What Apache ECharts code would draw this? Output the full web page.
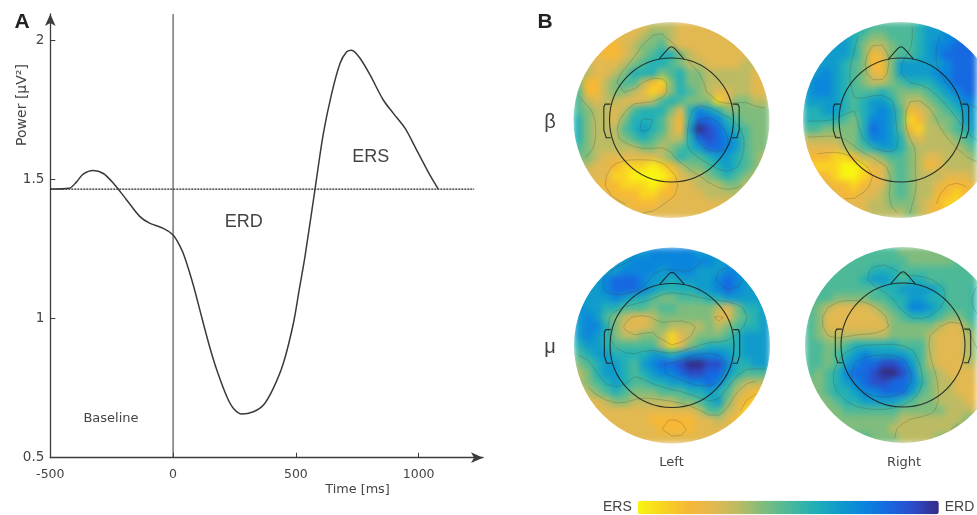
<!DOCTYPE html>
<html><head><meta charset="utf-8">
<style>
html,body{margin:0;padding:0;background:#fff;overflow:hidden}
#chart{width:977px;height:515px}
#chart canvas{filter:blur(0.45px)}
#chart canvas[data-zr-dom-id="zr_-1"]{filter:blur(3px)}
</style>
<script src="https://cdn.jsdelivr.net/npm/echarts@6/dist/echarts.min.js"></script>
</head><body><div id="chart"></div>
<script>
// ---- Panel A values (ms, uV^2) ----
const times=[-500,-423,-393,-366,-325,-284,-243,-189,-135,-94,-40,0,29,49,83,118,150,178,219,246,280,327,368,408,449,490,513,537,578,612,646,680,707,727,761,802,856,897,945,992,1046,1080];
const power=[1.465,1.468,1.491,1.519,1.532,1.521,1.486,1.426,1.366,1.342,1.324,1.300,1.258,1.216,1.118,1.0,0.895,0.815,0.719,0.677,0.657,0.665,0.689,0.749,0.839,0.983,1.10,1.222,1.465,1.665,1.809,1.917,1.958,1.964,1.935,1.875,1.785,1.737,1.683,1.605,1.515,1.465];
const baselineValue=1.465;
const baselineSpan=[-500,1226];
const onsetSpan=[0.5,2.094];
const xTicks=[-500,0,500,1000];
const yTicks=[0.5,1,1.5,2];
// ---- Panel B values: ERS (0) .. ERD (c) level per cell, rows top to bottom ----
const betaLeft=["333333334443333344433","333333345543333334433","333223455643333333333","333223456775433333333","443334567765443333444","543345777567554444433","522456642157554444433","622455431257654334433","643443334676555135544","654434677753798755555","7544357776427aa976555","7544467876428cba87655","7544456765447aba98655","65444445545678aa98655","554333333457667887654","443321110124556787654","333311000013445676544","333221110123344455443","333322211223334444333","333333222333333333333","333333333333333333333"];
const betaRight=["777777766666788999999","888887655666788999aaa","8888875445667899aaaaa","888887523566789aaaaaa","8888765225888889aaaaa","8898765325888899aaaaa","8998765445677789aaaaa","89987666765556789aaa9","888876788754456789999","778876789862345678888","777765799861245568888","6655557a9862144567888","444455799874344456777","333345678875444445666","222112445665433444555","211100133565423444444","322100123565444333444","333221233565443222333","333322334565442212333","333333344555432112333","333333344445432222333"];
const muLeft=["888888889999988888888","888888999999999888888","888889999899988899888","8889aaa988788889a9888","8889aaa987777889a9888","888898776556667788888","988776665665555435778","898654334555555335678","899753334544445456778","898754455413455567888","788766666413567777888","678877778878999987888","567887689aabccbb97788","45788767899abbaa87666","45678766778899a975444","345676555666778764322","333455444445567853211","333333333333346643111","333333332222233432111","333333333222233332222","333333333333333333333"];
const muRight=["666666666655555666666","666666666665555566666","666666677766666666666","666666788767766666667","666666667788887666777","666555566778877666788","654333345679987666788","653333334567776556778","653333333555554335667","654444444555543334556","665567777766643334555","665678988887643334555","665689aabba8643334444","65679aabccb9654333333","556789abbaa9754433322","55677899aaa8654433222","555677888876554443333","555566666655555444333","665555555544444445555","666555555444444455666","666666655544445556666"];
const mapNames=["β Left","β Right","μ Left","μ Right"];
const levelColors=["#f8f510","#f9d420","#f6b835","#e2b850","#bcbb63","#7fbc7c","#4cb998","#22b0b5","#0f9bcb","#0a85dc","#1568e0","#2c4bc8","#352a87"];
const contourLevels=[2.5,4.5,6.5,8.5,10.5];

const maps=[betaLeft,betaRight,muLeft,muRight];
const frames=[[573.5,22],[803,22],[574,247.5],[805,247]];
const N=21,MID=10,R=10.5,HEAD=6.64;
const fill=(g)=>{const d=[];g.forEach((row,j)=>{[...row].forEach((c,i)=>{
  if(Math.hypot(i-MID,j-MID)<=R+1.4)d.push([i,j,parseInt(c,36)]);});});return d;};
const num=(g)=>g.map(r=>[...r].map(c=>parseInt(c,36)));
function smooth(f){return f.map((r,j)=>r.map((_,i)=>{let s=0,w=0;for(let a=-1;a<=1;a++)for(let b=-1;b<=1;b++){
  const v=(f[j+a]||[])[i+b];if(v===undefined)continue;const k=(a?1:2)*(b?1:2);s+=v*k;w+=k;}return s/w;}));}
function contourSegs(g){
  const f=smooth(smooth(num(g))),segs=[];
  const cross=(x0,y0,v0,x1,y1,v1,l)=>{const t=(l-v0)/(v1-v0);return [x0+(x1-x0)*t,y0+(y1-y0)*t];};
  contourLevels.forEach(l=>{for(let j=0;j<N-1;j++)for(let i=0;i<N-1;i++){
    const a=f[j][i],b=f[j][i+1],c=f[j+1][i+1],d=f[j+1][i],p=[];
    if((a<l)!==(b<l))p.push(cross(i,j,a,i+1,j,b,l));
    if((b<l)!==(c<l))p.push(cross(i+1,j,b,i+1,j+1,c,l));
    if((c<l)!==(d<l))p.push(cross(i+1,j+1,c,i,j+1,d,l));
    if((d<l)!==(a<l))p.push(cross(i,j+1,d,i,j,a,l));
    for(let k=0;k+1<p.length;k+=2){
      if(Math.hypot(p[k][0]-MID,p[k][1]-MID)<R-.1&&Math.hypot(p[k+1][0]-MID,p[k+1][1]-MID)<R-.1)segs.push([p[k],p[k+1]]);}
  }});
  return segs;
}
const NOSE=[[-1.35,-6.5],[-.35,-7.65],[0,-7.85],[.35,-7.65],[1.35,-6.5]];
const EAR=[[-6.55,-1.7],[-7.1,-1.7],[-7.25,-1.4],[-7.25,1.1],[-7.0,1.9],[-6.5,1.9]];
function overlay(g){
  const segs=contourSegs(g);
  return function(params,api){
    const c=api.coord([MID,MID]),u=api.size([1,1])[0];
    const pt=p=>[c[0]+p[0]*u,c[1]+p[1]*u];
    const line='rgba(25,32,30,.9)';
    const kids=[{type:'ring',shape:{cx:c[0],cy:c[1],r:R*u+26,r0:R*u},style:{fill:'#fff'}}];
    segs.forEach(s=>kids.push({type:'line',shape:{x1:c[0]+(s[0][0]-MID)*u,y1:c[1]+(s[0][1]-MID)*u,x2:c[0]+(s[1][0]-MID)*u,y2:c[1]+(s[1][1]-MID)*u},style:{stroke:'rgba(70,70,50,.32)',lineWidth:.8}}));
    kids.push({type:'circle',shape:{cx:c[0],cy:c[1],r:HEAD*u},style:{fill:'none',stroke:line,lineWidth:1.1}});
    kids.push({type:'polyline',shape:{points:NOSE.map(pt),smooth:.2},style:{fill:'none',stroke:line,lineWidth:1.1}});
    kids.push({type:'polyline',shape:{points:EAR.map(pt)},style:{fill:'none',stroke:line,lineWidth:1.1}});
    kids.push({type:'polyline',shape:{points:EAR.map(p=>pt([-p[0],p[1]]))},style:{fill:'none',stroke:line,lineWidth:1.1}});
    return {type:'group',children:kids};
  };
}
const ink='#3c3c3c';
const plain=v=>String(v);
const grids=[{left:50.3,top:14,width:432.7,height:443.7,outerBoundsMode:'none'}];
const xAxes=[{type:'value',gridIndex:0,min:-500,max:1262,axisLine:{onZero:false,lineStyle:{color:ink,width:1.3},symbol:['none','arrow'],symbolSize:[8,12]},axisTick:{inside:true,length:5,customValues:xTicks,lineStyle:{color:ink}},axisLabel:{customValues:xTicks,formatter:plain,margin:11,color:'#444',fontFamily:'DejaVu Sans',fontSize:12.5},splitLine:{show:false}}];
const yAxes=[{type:'value',gridIndex:0,min:0.5,max:2.094,axisLine:{onZero:false,lineStyle:{color:ink,width:1.3},symbol:['none','arrow'],symbolSize:[8,12]},axisTick:{inside:true,length:5,customValues:yTicks,lineStyle:{color:ink}},axisLabel:{customValues:yTicks,formatter:plain,margin:6,color:'#444',fontFamily:'DejaVu Sans',fontSize:13.5},splitLine:{show:false}}];
const idx=[...Array(N).keys()].map(String);
const series=[
 {type:'line',name:'Power',xAxisIndex:0,yAxisIndex:0,data:times.map((t,i)=>[t,power[i]]),showSymbol:false,smooth:.3,lineStyle:{color:'#3a3a3a',width:1.5},z:5,silent:true},
 {type:'line',name:'Baseline',xAxisIndex:0,yAxisIndex:0,data:baselineSpan.map(t=>[t,baselineValue]),showSymbol:false,lineStyle:{color:'#222',width:1.2,type:[2,1]},z:4,silent:true},
 {type:'line',name:'Onset',xAxisIndex:0,yAxisIndex:0,data:onsetSpan.map(v=>[0,v]),showSymbol:false,lineStyle:{color:'#444',width:1.1},z:4,silent:true}
];
const heatIdx=[];
maps.forEach((g,k)=>{
  const a=k+1;
  grids.push({left:frames[k][0],top:frames[k][1],width:196,height:196,outerBoundsMode:'none'});
  xAxes.push({type:'category',gridIndex:a,data:idx,show:false});
  yAxes.push({type:'category',gridIndex:a,data:idx,show:false,inverse:true});
  heatIdx.push(series.length);
  series.push({type:'heatmap',name:mapNames[k],xAxisIndex:a,yAxisIndex:a,data:fill(g),zlevel:-1,progressive:0,silent:true,emphasis:{disabled:true}});
  series.push({type:'custom',name:mapNames[k]+' outline',xAxisIndex:a,yAxisIndex:a,data:[[MID,MID]],renderItem:overlay(g),silent:true,z:3,clip:false});
});
const txt=(text,x,y,font,fill,extra)=>Object.assign({type:'text',z:100,silent:true,style:{text,x,y,font,fill:fill||'#444',textAlign:'center',verticalAlign:'middle'}},extra||{});
const chart=echarts.init(document.getElementById('chart'),null,{renderer:'canvas'});
chart.setOption({
 animation:false,backgroundColor:'transparent',tooltip:{show:false},
 grid:grids,xAxis:xAxes,yAxis:yAxes,series,
 visualMap:{type:'continuous',show:true,min:0,max:12,seriesIndex:heatIdx,calculable:false,orient:'horizontal',left:588,top:485.5,itemWidth:13.5,itemHeight:301,text:['ERD','ERS'],textGap:6,hoverLink:false,inRange:{color:levelColors},textStyle:{color:'#444',fontFamily:'Liberation Sans',fontSize:14}},
 graphic:{elements:[
  txt('A',22,22.7,'bold 21px "Liberation Sans"','#222'),
  txt('B',545,22.6,'bold 21px "Liberation Sans"','#222'),
  txt('ERD',243.7,221.7,'18px "Liberation Sans"'),
  txt('ERS',370.7,157,'18px "Liberation Sans"'),
  txt('Baseline',111,419,'13px "DejaVu Sans"'),
  txt('Time [ms]',357.5,490,'12.8px "DejaVu Sans"'),
  Object.assign(txt('Power [µV²]',0,0,'14px "DejaVu Sans"'),{x:22,y:105,rotation:Math.PI/2}),
  txt('β',550,122,'20px "Liberation Sans"'),
  txt('μ',550,347,'20px "Liberation Sans"'),
  txt('Left',671.5,463,'13px "DejaVu Sans"'),
  txt('Right',904,463,'13px "DejaVu Sans"')
 ]}
});
</script></body></html>
